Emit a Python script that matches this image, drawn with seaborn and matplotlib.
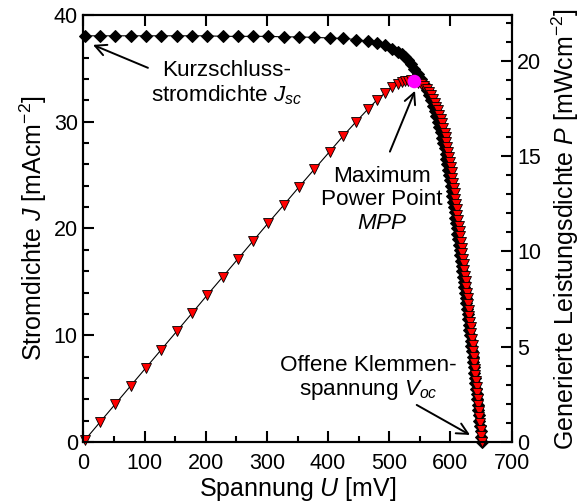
import matplotlib
matplotlib.use("Agg")
import matplotlib.pyplot as plt
import pandas as pd
import seaborn as sns
from matplotlib.ticker import MultipleLocator

# Measured J-V characteristic of the solar cell
voltage_mV = [
    2.5, 27.5, 52.5, 77.5, 102.5, 127.5, 152.5, 177.5, 202.5, 227.5,
    252.5, 277.5, 302.5, 327.5, 352.5, 377.5, 402.5, 425.0, 446.0, 465.0,
    480.0, 493.0, 505.0, 514.0, 520.0, 525.0, 530.0, 535.0, 541.0,
    546.2, 552.2, 557.3, 561.4, 565.0, 568.1, 571.2, 574.1, 576.8, 579.5,
    581.8, 584.1, 586.2, 588.3, 590.3, 591.9, 593.4, 595.0, 596.4, 597.8,
    599.2, 600.5, 601.8, 603.0, 604.2, 605.5, 606.7, 607.9, 609.0, 610.2,
    611.4, 612.5, 613.6, 614.8, 615.9, 617.0, 618.2, 619.3, 620.4, 621.5,
    622.6, 623.7, 624.8, 625.8, 626.9, 627.9, 629.0, 630.0, 631.0, 632.0,
    633.0, 634.0, 635.0, 636.0, 636.9, 637.9, 638.8, 639.8, 640.7, 641.7,
    642.6, 643.5, 644.4, 645.4, 646.3, 647.2, 648.1, 649.1, 650.0, 651.0,
]
current_density = [
    38.05, 38.05, 38.05, 38.05, 38.05, 38.05, 38.05, 38.05, 38.05, 38.0,
    38.0, 38.0, 38.0, 37.95, 37.95, 37.9, 37.85, 37.8, 37.7, 37.55,
    37.4, 37.15, 36.85, 36.55, 36.3, 36.05, 35.75, 35.45, 34.95,
    34.5, 34.0, 33.5, 33.0, 32.5, 32.0, 31.5, 31.0, 30.5, 30.0,
    29.5, 29.0, 28.5, 28.0, 27.5, 27.0, 26.5, 26.0, 25.5, 25.0,
    24.5, 24.0, 23.5, 23.0, 22.5, 22.0, 21.5, 21.0, 20.5, 20.0,
    19.5, 19.0, 18.5, 18.0, 17.5, 17.0, 16.5, 16.0, 15.5, 15.0,
    14.5, 14.0, 13.5, 13.0, 12.5, 12.0, 11.5, 11.0, 10.5, 10.0,
    9.5, 9.0, 8.5, 8.0, 7.5, 7.0, 6.5, 6.0, 5.5, 5.0,
    4.5, 4.0, 3.5, 3.0, 2.5, 2.0, 1.5, 1.0, 0.5, 0.0,
]
power_density = [
    0.10, 1.05, 2.00, 2.95, 3.90, 4.85, 5.80, 6.75, 7.71, 8.65,
    9.60, 10.55, 11.50, 12.43, 13.38, 14.31, 15.23, 16.07, 16.81, 17.46,
    17.95, 18.31, 18.61, 18.79, 18.88, 18.93, 18.95, 18.97, 18.91,
    18.84, 18.77, 18.67, 18.53, 18.36, 18.18, 17.99, 17.80, 17.59, 17.39,
    17.16, 16.94, 16.71, 16.47, 16.23, 15.98, 15.73, 15.47, 15.21, 14.95,
    14.68, 14.41, 14.14, 13.87, 13.59, 13.32, 13.04, 12.77, 12.48, 12.20,
    11.92, 11.64, 11.35, 11.07, 10.78, 10.49, 10.20, 9.91, 9.62, 9.32,
    9.03, 8.73, 8.43, 8.14, 7.84, 7.53, 7.23, 6.93, 6.63, 6.32,
    6.01, 5.71, 5.40, 5.09, 4.78, 4.47, 4.15, 3.84, 3.52, 3.21,
    2.89, 2.57, 2.26, 1.94, 1.62, 1.29, 0.97, 0.65, 0.33, 0.00,
]
mpp_voltage = [541.0]
mpp_power = [18.91]

sns.set_style("ticks")
plt.rcParams["font.family"] = ["Liberation Sans", "DejaVu Sans"]
plt.rcParams["mathtext.fontset"] = "custom"
plt.rcParams["mathtext.rm"] = "Liberation Sans"
plt.rcParams["mathtext.it"] = "Liberation Sans:italic"
plt.rcParams["mathtext.default"] = "it"
for key in ("text.color", "axes.labelcolor", "xtick.color", "ytick.color",
            "axes.edgecolor"):
    plt.rcParams[key] = "black"

df = pd.DataFrame({"U": voltage_mV, "J": current_density, "P": power_density})
mpp = pd.DataFrame({"U": mpp_voltage, "P": mpp_power})

fig = plt.figure(figsize=(5.81, 5.03), dpi=100)
ax = fig.add_axes([0.1434, 0.1213, 0.7373, 0.8489])

sns.lineplot(data=df, x="U", y="J", ax=ax, sort=False, color="black",
             lw=0.8, marker="D", markersize=6, markerfacecolor="black",
             markeredgecolor="black", clip_on=False)

ax2 = ax.twinx()
sns.lineplot(data=df, x="U", y="P", ax=ax2, sort=False, color="black",
             lw=0.8, marker="v", markersize=7.5, markerfacecolor="#ff0000",
             markeredgecolor="black", markeredgewidth=0.6, clip_on=False)
sns.scatterplot(data=mpp, x="U", y="P", ax=ax2, color="#ff00ff", s=95,
                edgecolor="none", zorder=6, clip_on=False)

ax.set_xlim(0, 700)
ax.set_ylim(0, 40)
ax2.set_ylim(0, 22.4)

ax.xaxis.set_major_locator(MultipleLocator(100))
ax.xaxis.set_minor_locator(MultipleLocator(50))
ax.yaxis.set_major_locator(MultipleLocator(10))
ax.yaxis.set_minor_locator(MultipleLocator(2))
ax2.yaxis.set_major_locator(MultipleLocator(5))
ax2.yaxis.set_minor_locator(MultipleLocator(1))

tick_fs = 15.5
ax.tick_params(axis="both", which="major", direction="in", length=8, width=1.5,
               labelsize=tick_fs)
ax.tick_params(axis="x", which="major", pad=8)
ax.tick_params(axis="y", which="major", pad=4)
ax.tick_params(axis="both", which="minor", direction="in", length=4.5, width=1.5)
ax.tick_params(axis="x", which="major", top=True)
ax.tick_params(axis="x", which="minor", top=False)
ax.tick_params(axis="y", which="both", right=False)
ax2.tick_params(axis="y", which="major", direction="in", length=8, width=1.5,
                labelsize=tick_fs, pad=4)
ax2.tick_params(axis="y", which="minor", direction="in", length=4.5, width=1.5)

for a in (ax, ax2):
    for s in a.spines.values():
        s.set_linewidth(1.5)
        s.set_color("black")

label_fs = 18
ax.set_xlabel("Spannung $U$ [mV]", fontsize=label_fs, labelpad=0.5)
ax.set_ylabel("Stromdichte $J$ [mAcm$^{-2}$]", fontsize=label_fs, labelpad=3)
ax2.set_ylabel("Generierte Leistungsdichte $P$ [mWcm$^{-2}$]",
               fontsize=label_fs, labelpad=6)

arrow = dict(arrowstyle="->", lw=1.4, color="black", mutation_scale=20,
             shrinkA=0, shrinkB=0)
ann_fs = 16.2

ax.text(234.8, 33.55, "Kurzschluss-\nstromdichte $J_{sc}$", fontsize=ann_fs,
        ha="center", va="center", linespacing=1.15)
ax.annotate("", xy=(15.8, 37.2), xytext=(105.6, 35.05), arrowprops=arrow)

ax.text(488, 22.68, "Maximum\nPower Point\n$MPP$", fontsize=ann_fs,
        ha="center", va="center", linespacing=1.15)
ax.annotate("", xy=(542, 32.9), xytext=(501, 27.2), arrowprops=arrow)

ax.text(465, 5.95, "Offene Klemmen-\nspannung $V_{oc}$", fontsize=ann_fs,
        ha="center", va="center", linespacing=1.15)
ax.annotate("", xy=(631.9, 0.66), xytext=(544.8, 3.47), arrowprops=arrow)

fig.savefig("out.png", dpi=100)
